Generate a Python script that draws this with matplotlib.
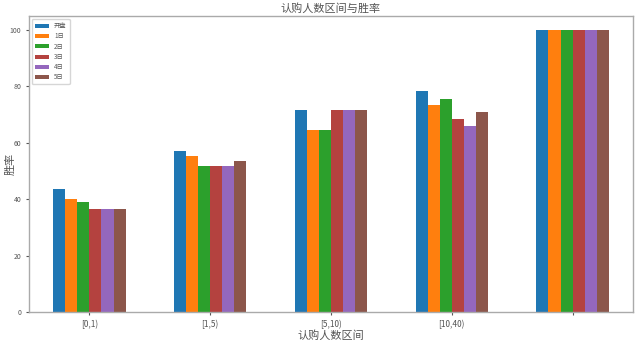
import numpy as np
import matplotlib
matplotlib.use("Agg")
import matplotlib.pyplot as plt

plt.rcParams["font.family"] = ["Noto Sans CJK SC", "DejaVu Sans"]
plt.rcParams["axes.unicode_minus"] = False

# bins of the subscriber count
CATEGORIES = ["[0,1)", "[1,5)", "[5,10)", "[10,40)", ""]
SERIES = ["开盘", "1日", "2日", "3日", "4日", "5日"]

# win rate (%) per series, one value per bin
OPEN_DAY = [43.5, 57.0, 71.5, 78.3, 100]
DAY_1 = [40.0, 55.3, 64.4, 73.3, 100]
DAY_2 = [39.0, 51.8, 64.4, 75.7, 100]
DAY_3 = [36.6, 51.8, 71.5, 68.5, 100]
DAY_4 = [36.6, 51.8, 71.5, 66.0, 100]
DAY_5 = [36.6, 53.4, 71.5, 70.9, 100]

COLORS = ["#1f77b4", "#ff7f0e", "#2ca02c", "#b4423f", "#9467bd", "#8c564b"]


def plot():
    values = [OPEN_DAY, DAY_1, DAY_2, DAY_3, DAY_4, DAY_5]
    fig = plt.figure(figsize=(6.4, 3.4), dpi=100)
    ax = fig.add_axes([29 / 640, 1 - 312 / 340, 604 / 640, 296 / 340])

    x = np.arange(len(CATEGORIES))
    n = len(SERIES)
    w = 0.6 / n
    for i, (name, vals) in enumerate(zip(SERIES, values)):
        ax.bar(x - 0.3 + w * (i + 0.5), vals, width=w, color=COLORS[i], label=name)

    ax.set_xlim(-0.5, 4.5)
    ax.set_ylim(0, 105)
    ax.set_xticks(x)
    ax.set_xticklabels(CATEGORIES, fontsize=6, color="#555555")
    ax.set_yticks([0, 20, 40, 60, 80, 100])
    ax.tick_params(axis="y", labelsize=5, colors="#555555", length=2)
    ax.tick_params(axis="x", length=2, colors="#555555")
    for s in ax.spines.values():
        s.set_color("#aaaaaa")
        s.set_linewidth(1.0)

    ax.set_title("认购人数区间与胜率", fontsize=8, color="#555555", pad=3)
    ax.set_xlabel("认购人数区间", fontsize=8, color="#555555", labelpad=1)
    ax.set_ylabel("胜率", fontsize=8, color="#555555")
    ax.yaxis.set_label_coords(-0.022, 0.5)

    ax.legend(loc="upper left", fontsize=4.5, handlelength=2.2, handleheight=0.6,
              labelspacing=0.35, borderpad=0.5, labelcolor="#555555")

    fig.savefig("out.png", dpi=100)
    plt.close(fig)


if __name__ == "__main__":
    plot()
